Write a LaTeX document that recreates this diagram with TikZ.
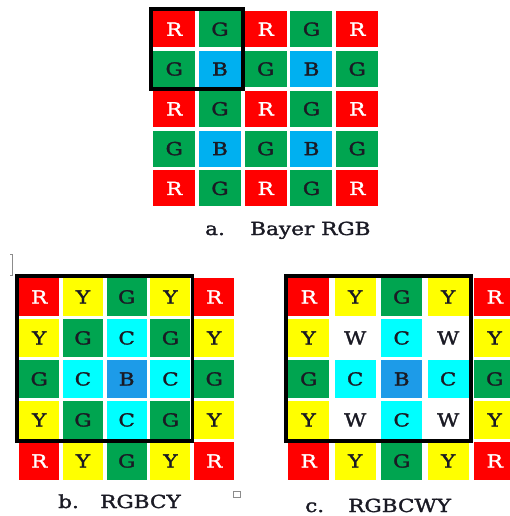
\documentclass[tikz,border=0pt]{standalone}
\usepackage{fontspec}
\newfontfamily\cellfont{DejaVu Serif}[FakeStretch=1.2, FakeBold=1.6]
\usetikzlibrary{positioning,fit}

\definecolor{fR}{HTML}{FF0000}
\definecolor{fG}{HTML}{00A550}
\definecolor{bluea}{HTML}{00B0F0}
\definecolor{blueb}{HTML}{1D9BE8}
\definecolor{fC}{HTML}{00FFFF}
\definecolor{fY}{HTML}{FFFF00}
\definecolor{fW}{HTML}{FFFFFF}
\definecolor{ink}{HTML}{1A1A24}
\colorlet{tR}{white}
\colorlet{tG}{ink}
\colorlet{tB}{ink}
\colorlet{tC}{ink}
\colorlet{tY}{ink}
\colorlet{tW}{ink}

\begin{document}
\begin{tikzpicture}[
  x=1pt, y=-1pt,
  font=\cellfont\fontsize{18}{21}\selectfont,
  px/.style={fill=f#1, text=t#1, inner sep=0pt, anchor=north west},
  sza/.style={minimum width=42pt, minimum height=36pt},
  szb/.style={minimum width=40pt, minimum height=37.5pt},
  szc/.style={minimum width=41pt, minimum height=37.5pt},
  frame/.style={draw=black, line width=3.6pt, inner sep=2pt},
  caption/.style={anchor=base west, inner sep=0pt, text=ink},
  editmark/.style={draw=black!45, line width=0.6pt},
]
\useasboundingbox (0,0) rectangle (510,516);
\clip (0,0) rectangle (510,516);

%% ============ a. Bayer RGB ============
\colorlet{fB}{bluea}
\foreach \row [count=\r] in {{R,G,R,G,R},{G,B,G,B,G},{R,G,R,G,R},{G,B,G,B,G},{R,G,R,G,R}}
  \foreach \ltr [count=\c] in \row
    \node[px=\ltr, sza] (a-\r-\c) at ({153+(\c-1)*45.75},{11+(\r-1)*39.8}) {\ltr};
\node[frame, fit=(a-1-1)(a-2-2)] (boxa) {};
\node[caption] (lbla) at (205,235) {a.};
\node[caption] (capa) at (250,235) {Bayer RGB};

%% ============ b. RGBCY ============
\colorlet{fB}{blueb}
\foreach \row [count=\r] in {{R,Y,G,Y,R},{Y,G,C,G,Y},{G,C,B,C,G},{Y,G,C,G,Y},{R,Y,G,Y,R}}
  \foreach \ltr [count=\c] in \row
    \node[px=\ltr, szb] (b-\r-\c) at ({19+(\c-1)*43.75},{278+(\r-1)*41}) {\ltr};
\node[frame, fit=(b-1-1)(b-4-4)] (boxb) {};
\node[caption] (lblb) at (58,508) {b.};
\node[caption] (capb) at (100,508) {RGBCY};

%% ============ c. RGBCWY ============
\foreach \row [count=\r] in {{R,Y,G,Y,R},{Y,W,C,W,Y},{G,C,B,C,G},{Y,W,C,W,Y},{R,Y,G,Y,R}}
  \foreach \ltr [count=\c] in \row
    \node[px=\ltr, szc] (c-\r-\c) at ({288+(\c-1)*46.5},{278+(\r-1)*41}) {\ltr};
\node[frame, fit=(c-1-1)(c-4-4)] (boxc) {};
\node[caption] (lblc) at (305,512) {c.};
\node[caption] (capc) at (348,512) {RGBCWY};

%% editor marks
\draw[editmark] (10,254) -- (12.5,254) -- (12.5,275) -- (10,275);
\draw[editmark] (233,491) rectangle (240,497);

\end{tikzpicture}
\end{document}
